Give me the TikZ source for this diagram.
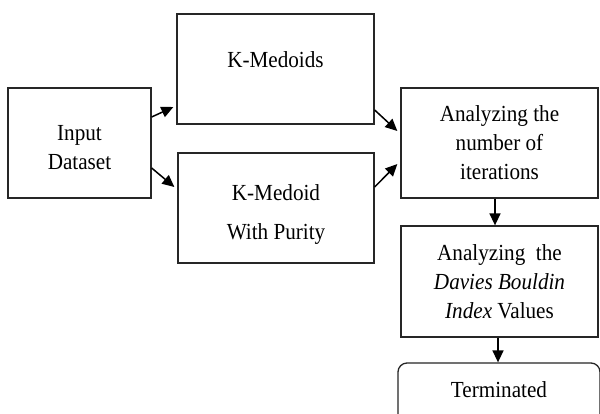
\documentclass[tikz,border=0pt]{standalone}
\usepackage{fontspec}
\setmainfont{Liberation Serif}[FakeStretch=0.92]
\usetikzlibrary{arrows.meta}

\tikzset{
  stage/.style={draw=black!85,line width=1.3pt,align=center,inner sep=2pt,
    font=\fontsize{23}{29}\selectfont},
  flow/.style={line width=1.5pt,-{Triangle[length=12pt,width=11pt]}}
}

\begin{document}
\begin{tikzpicture}[x=1pt,y=-1pt]
\clip (0,0) rectangle (600,413);
\fill[white] (0,0) rectangle (600,413);

% stages
\node[stage,minimum width=143pt,minimum height=110pt,text height=54pt] (input) at (79.5,143) {Input\\Dataset};
\node[stage,minimum width=197pt,minimum height=110pt,text depth=18pt] (kmed) at (275.5,69) {K-Medoids};
\node[stage,minimum width=196pt,minimum height=110pt,text height=68pt] (kmp) at (276,208) {K-Medoid\\[10pt]With Purity};
\node[stage,minimum width=197pt,minimum height=110pt] (iter) at (499.5,143) {Analyzing the\\number of\\iterations};
\node[stage,minimum width=197pt,minimum height=111pt] (dbi) at (499.5,281.5) {Analyzing~ the\\\textit{Davies Bouldin}\\\textit{Index} Values};
\node[stage,rounded corners=9pt,minimum width=202pt,minimum height=64pt,text depth=10pt] (term) at (499,395) {Terminated};

% connectors
\draw[flow] ([yshift=26pt]input.east) -- ([xshift=-3pt,yshift=-38pt]kmed.west);
\draw[flow] ([yshift=-25pt]input.east) -- ([xshift=-3pt,yshift=21pt]kmp.west);
\draw[flow] ([yshift=-41pt]kmed.east) -- ([xshift=-3pt,yshift=12pt]iter.west);
\draw[flow] ([yshift=21pt]kmp.east) -- ([xshift=-3pt,yshift=-21pt]iter.west);
\draw[flow] ([xshift=-4.5pt]iter.south) -- ([xshift=-4.5pt]dbi.north);
\draw[flow] ([xshift=-1.5pt]dbi.south) -- ([xshift=-1pt]term.north);
\end{tikzpicture}
\end{document}
